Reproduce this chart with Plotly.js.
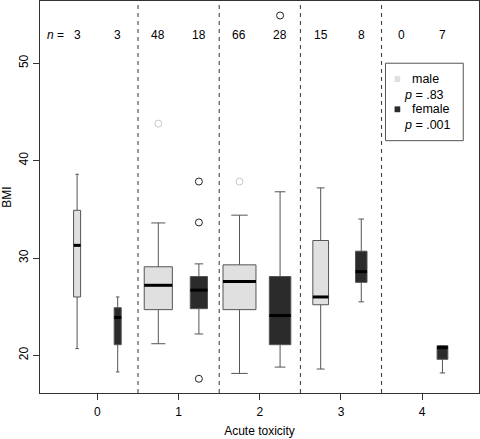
<!DOCTYPE html>
<html>
<head>
<meta charset="utf-8">
<script src="https://cdn.plot.ly/plotly-3.0.1.min.js"></script>
<style>html,body{margin:0;padding:0;background:#fff;}#chart{width:480px;height:439px;}</style>
</head>
<body>
<div id="chart"></div>
<script>
// ---- data ----
const groups = [0, 1, 2, 3, 4];
const tickLabels = ['0', '1', '2', '3', '4'];
const nMale   = [3, 48, 66, 15, 0];
const nFemale = [3, 18, 28, 8, 7];

const maleLow  = [20.7, 21.2, 18.15, 18.6, null];
const maleQ1   = [26.0, 24.7, 24.7, 25.2, null];
const maleMed  = [31.3, 27.2, 27.6, 26.0, null];
const maleQ3   = [34.9, 29.1, 29.3, 31.8, null];
const maleHigh = [38.6, 33.6, 34.4, 37.2, null];

const femaleLow  = [18.3, 22.2, 18.8, 25.5, 18.2];
const femaleQ1   = [21.1, 24.8, 21.1, 27.5, 19.6];
const femaleMed  = [23.9, 26.7, 24.1, 28.6, 20.8];
const femaleQ3   = [24.9, 28.1, 28.1, 30.7, 21.0];
const femaleHigh = [26.0, 29.4, 36.8, 34.0, 21.0];

const maleOutGroup   = [1, 2];
const maleOutValue   = [43.8, 37.85];
const femaleOutGroup = [1, 1, 1, 2];
const femaleOutValue = [37.85, 33.65, 17.6, 54.9];

const legendLabels = ['male', 'female'];
const pValues = ['.83', '.001'];

// ---- styling ----
const FONT = 'Liberation Sans, Arial, Helvetica, sans-serif';
const maleFill = '#e0e0e0', femaleFill = '#2b2b2b', edge = '#555555';
const offset = 0.25;
const widthPerSqrtN = 0.05;

const traces = [];
const medX = [], medY = [];
function addBoxes(n, lo, q1, med, q3, hi, off, fill) {
  groups.forEach((g, i) => {
    if (!n[i]) return;
    const pos = g + off;
    const w = widthPerSqrtN * Math.sqrt(n[i]);
    traces.push({
      type: 'box', x: [pos], q1: [q1[i]], median: [med[i]], q3: [q3[i]],
      lowerfence: [lo[i]], upperfence: [hi[i]], width: w,
      fillcolor: fill, line: {color: edge, width: 1}, whiskerwidth: 0.5,
      boxpoints: false, showlegend: false, hoverinfo: 'skip'
    });
    medX.push(pos - w / 2, pos + w / 2, null);
    medY.push(med[i], med[i], null);
  });
}
addBoxes(nMale, maleLow, maleQ1, maleMed, maleQ3, maleHigh, -offset, maleFill);
addBoxes(nFemale, femaleLow, femaleQ1, femaleMed, femaleQ3, femaleHigh, offset, femaleFill);

traces.push({type: 'scatter', mode: 'lines', x: medX, y: medY,
  line: {color: '#000', width: 3}, showlegend: false, hoverinfo: 'skip'});

traces.push({type: 'scatter', mode: 'markers',
  x: maleOutGroup.map(g => g - offset), y: maleOutValue,
  marker: {symbol: 'circle-open', size: 7, color: '#c8c8c8', line: {width: 1}},
  showlegend: false, hoverinfo: 'skip'});
traces.push({type: 'scatter', mode: 'markers',
  x: femaleOutGroup.map(g => g + offset), y: femaleOutValue,
  marker: {symbol: 'circle-open', size: 7, color: '#222', line: {width: 1}},
  showlegend: false, hoverinfo: 'skip'});

const shapes = [];
[0.5, 1.5, 2.5, 3.5].forEach(v => shapes.push({type: 'line', xref: 'x', yref: 'paper',
  x0: v, x1: v, y0: 0, y1: 1, line: {color: '#333', width: 1, dash: '4px,4px'}}));

const annotations = [];
const nY = 52.9;
annotations.push({xref: 'x', yref: 'y', x: -0.39, y: nY, text: '<i>n</i> =',
  showarrow: false, xanchor: 'right', font: {family: FONT, size: 12, color: '#000'}});
groups.forEach((g, i) => {
  annotations.push({xref: 'x', yref: 'y', x: g - offset, y: nY, text: String(nMale[i]),
    showarrow: false, font: {family: FONT, size: 12, color: '#000'}});
  annotations.push({xref: 'x', yref: 'y', x: g + offset, y: nY, text: String(nFemale[i]),
    showarrow: false, font: {family: FONT, size: 12, color: '#000'}});
});

// legend box
shapes.push({type: 'rect', xref: 'x', yref: 'y', x0: 3.548, x1: 4.506, y0: 42.05, y1: 50.0,
  line: {color: edge, width: 1}, fillcolor: '#fff', layer: 'above'});
const legRows = [48.38, 45.27];
const legFills = [maleFill, femaleFill];
legendLabels.forEach((lab, i) => {
  shapes.push({type: 'rect', xref: 'x', yref: 'y', x0: 3.66, x1: 3.73,
    y0: legRows[i] - 0.3, y1: legRows[i] + 0.3, line: {width: 0}, fillcolor: legFills[i], layer: 'above'});
  annotations.push({xref: 'x', yref: 'y', x: 3.85, y: legRows[i], text: lab, xanchor: 'left',
    showarrow: false, font: {family: FONT, size: 12.5, color: '#000'}});
  annotations.push({xref: 'x', yref: 'y', x: 3.755, y: legRows[i] - 1.61,
    text: '<i>p</i> = ' + pValues[i], xanchor: 'left',
    showarrow: false, font: {family: FONT, size: 12.5, color: '#000'}});
});

const layout = {
  width: 480, height: 439,
  margin: {l: 40, r: 1, t: 1, b: 46, pad: 0},
  paper_bgcolor: '#fff', plot_bgcolor: '#fff',
  font: {family: FONT, size: 12, color: '#000'},
  showlegend: false,
  xaxis: {range: [-0.707, 4.70], tickvals: groups, ticktext: tickLabels,
    ticks: 'outside', ticklen: 6, tickcolor: '#333', showgrid: false, zeroline: false,
    showline: true, linecolor: '#333', mirror: true, ticklabelstandoff: 2,
    title: {text: 'Acute toxicity', font: {family: FONT, size: 12}, standoff: 8},
    tickfont: {family: FONT, size: 12}},
  yaxis: {range: [16.14, 56.39], tickvals: [20, 30, 40, 50], tickangle: -90,
    ticks: 'outside', ticklen: 6, tickcolor: '#333', showgrid: false, zeroline: false,
    showline: true, linecolor: '#333', mirror: true,
    title: {text: 'BMI', font: {family: FONT, size: 12}, standoff: 6},
    tickfont: {family: FONT, size: 12}},
  shapes: shapes, annotations: annotations
};

Plotly.newPlot('chart', traces, layout, {staticPlot: true, displayModeBar: false});
</script>
</body>
</html>
